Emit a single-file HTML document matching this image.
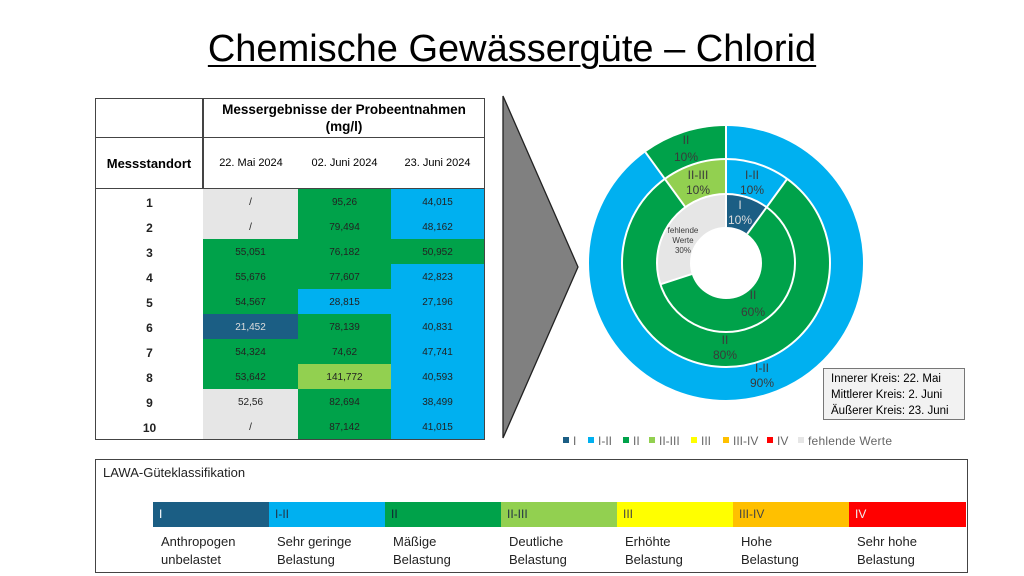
<!DOCTYPE html>
<html><head><meta charset="utf-8">
<style>
body{margin:0;width:1024px;height:576px;background:#fff;font-family:"Liberation Sans",sans-serif;position:relative;overflow:hidden}
.t{position:absolute;left:0;width:1024px;top:28px;text-align:center;font-size:38px;text-decoration:underline;text-decoration-thickness:2px;text-underline-offset:4px;color:#000}
table{position:absolute;left:95px;top:98px;border-collapse:collapse;font-size:11px}
td{padding:0;text-align:center;vertical-align:middle}
.hd td{border:1px solid #444}
.r td{height:23px;font-size:10px;color:#222;padding-top:2px;line-height:12px}
.r td:first-child{font-weight:bold;font-size:12px}
.g{background:#00a24a}.b{background:#00b0f0}.gr{background:#e6e6e6}.d{background:#1b5e84;color:#ddd!important}.lg{background:#92d050}
.box{position:absolute;border:1px solid #555}
.bar{position:absolute;top:502px;height:25px;width:116px;font-size:12px;color:#fff;line-height:25px;padding-left:6px;box-sizing:border-box}
.lab{position:absolute;top:533px;font-size:13px;line-height:18px;color:#222}
</style></head><body>
<div class="t">Chemische Gewässergüte – Chlorid</div>
<table style="width:390px;border:1px solid #444">
<tr class="hd"><td style="width:106px;height:38px;border-right:2px solid #444"></td><td colspan="3" style="height:38px;font-weight:bold;font-size:13.5px;line-height:17px">Messergebnisse der Probeentnahmen<br>(mg/l)</td></tr>
<tr class="hd"><td style="height:50px;font-weight:bold;font-size:13px;border-right:2px solid #444">Messstandort</td><td style="width:94px;border-left:none;border-right:none">22. Mai 2024</td><td style="width:93px;border-left:none;border-right:none">02. Juni 2024</td><td style="border-left:none">23. Juni 2024</td></tr>
<tr class="r"><td>1</td><td class="gr">/</td><td class="g">95,26</td><td class="b">44,015</td></tr>
<tr class="r"><td>2</td><td class="gr">/</td><td class="g">79,494</td><td class="b">48,162</td></tr>
<tr class="r"><td>3</td><td class="g">55,051</td><td class="g">76,182</td><td class="g">50,952</td></tr>
<tr class="r"><td>4</td><td class="g">55,676</td><td class="g">77,607</td><td class="b">42,823</td></tr>
<tr class="r"><td>5</td><td class="g">54,567</td><td class="b">28,815</td><td class="b">27,196</td></tr>
<tr class="r"><td>6</td><td class="d">21,452</td><td class="g">78,139</td><td class="b">40,831</td></tr>
<tr class="r"><td>7</td><td class="g">54,324</td><td class="g">74,62</td><td class="b">47,741</td></tr>
<tr class="r"><td>8</td><td class="g">53,642</td><td class="lg">141,772</td><td class="b">40,593</td></tr>
<tr class="r"><td>9</td><td class="gr">52,56</td><td class="g">82,694</td><td class="b">38,499</td></tr>
<tr class="r"><td>10</td><td class="gr">/</td><td class="g">87,142</td><td class="b">41,015</td></tr>
</table>
<svg width="1024" height="576" style="position:absolute;left:0;top:0">
<polygon points="503,96 578,267 503,438" fill="#808080" stroke="#222" stroke-width="1.3"/>
<g fill="none" transform="rotate(-90 726 263)">
<circle cx="726" cy="263" r="120.5" stroke="#00b0f0" stroke-width="33" pathLength="100" stroke-dasharray="90 100"/>
<circle cx="726" cy="263" r="120.5" stroke="#00a24a" stroke-width="33" pathLength="100" stroke-dasharray="10 100" stroke-dashoffset="-90"/>
<circle cx="726" cy="263" r="86.5" stroke="#00b0f0" stroke-width="35" pathLength="100" stroke-dasharray="10 100"/>
<circle cx="726" cy="263" r="86.5" stroke="#00a24a" stroke-width="35" pathLength="100" stroke-dasharray="80 100" stroke-dashoffset="-10"/>
<circle cx="726" cy="263" r="86.5" stroke="#92d050" stroke-width="35" pathLength="100" stroke-dasharray="10 100" stroke-dashoffset="-90"/>
<circle cx="726" cy="263" r="52.5" stroke="#1b5e84" stroke-width="33" pathLength="100" stroke-dasharray="10 100"/>
<circle cx="726" cy="263" r="52.5" stroke="#00a24a" stroke-width="33" pathLength="100" stroke-dasharray="60 100" stroke-dashoffset="-10"/>
<circle cx="726" cy="263" r="52.5" stroke="#e6e6e6" stroke-width="33" pathLength="100" stroke-dasharray="30 100" stroke-dashoffset="-70"/>
</g>
<g stroke="#fff" stroke-width="2" fill="none">
<circle cx="726" cy="263" r="104"/><circle cx="726" cy="263" r="69"/>
<line x1="726" y1="227" x2="726" y2="126"/>
<line x1="747.2" y1="233.9" x2="787.2" y2="178.9"/>
<line x1="685.4" y1="207.2" x2="645.4" y2="152.2"/>
<line x1="691.8" y1="274.1" x2="660.4" y2="284.3"/>
</g>
<g font-size="12" fill="#3a3a3a" text-anchor="middle">
<text x="686" y="144">II</text><text x="686" y="161">10%</text>
<text x="752" y="179">I-II</text><text x="752" y="194">10%</text>
<text x="698" y="179">II-III</text><text x="698" y="194">10%</text>
<text x="740" y="209" fill="#ddd">I</text><text x="740" y="224" fill="#ddd">10%</text>
<text x="683" y="233" font-size="8">fehlende</text><text x="683" y="243" font-size="8">Werte</text><text x="683" y="253" font-size="8">30%</text>
<text x="753" y="299">II</text><text x="753" y="316">60%</text>
<text x="725" y="344">II</text><text x="725" y="359">80%</text>
<text x="762" y="372">I-II</text><text x="762" y="387">90%</text>
</g>
<g font-size="12" fill="#666">
<rect x="563" y="437" width="6" height="6" fill="#1b5e84"/><text x="573" y="445">I</text>
<rect x="588" y="437" width="6" height="6" fill="#00b0f0"/><text x="598" y="445">I-II</text>
<rect x="623" y="437" width="6" height="6" fill="#00a24a"/><text x="633" y="445">II</text>
<rect x="649" y="437" width="6" height="6" fill="#92d050"/><text x="659" y="445">II-III</text>
<rect x="691" y="437" width="6" height="6" fill="#ffff00"/><text x="701" y="445">III</text>
<rect x="723" y="437" width="6" height="6" fill="#ffc000"/><text x="733" y="445">III-IV</text>
<rect x="767" y="437" width="6" height="6" fill="#ff0000"/><text x="777" y="445">IV</text>
<rect x="798" y="437" width="6" height="6" fill="#e6e6e6"/><text x="808" y="445" textLength="84">fehlende Werte</text>
</g>
</svg>
<div class="box" style="left:823px;top:368px;width:142px;height:52px;background:#f2f2f2;font-size:11.5px;line-height:16px;padding:2px 0 0 7px;box-sizing:border-box;border-color:#777">Innerer Kreis: 22. Mai<br>Mittlerer Kreis: 2. Juni<br>Äußerer Kreis: 23. Juni</div>
<div class="box" style="left:95px;top:459px;width:871px;height:112px;border-color:#444"></div>
<div style="position:absolute;left:103px;top:465px;font-size:13px;color:#222">LAWA-Güteklassifikation</div>
<div class="bar" style="left:153px;background:#1b5e84">I</div>
<div class="bar" style="left:269px;background:#00b0f0;color:#234">I-II</div>
<div class="bar" style="left:385px;background:#00a24a;color:#123">II</div>
<div class="bar" style="left:501px;background:#92d050;color:#234">II-III</div>
<div class="bar" style="left:617px;background:#ffff00;color:#444">III</div>
<div class="bar" style="left:733px;background:#ffc000;color:#444">III-IV</div>
<div class="bar" style="left:849px;width:117px;background:#ff0000;color:#eee">IV</div>
<div class="lab" style="left:161px">Anthropogen<br>unbelastet</div>
<div class="lab" style="left:277px">Sehr geringe<br>Belastung</div>
<div class="lab" style="left:393px">Mäßige<br>Belastung</div>
<div class="lab" style="left:509px">Deutliche<br>Belastung</div>
<div class="lab" style="left:625px">Erhöhte<br>Belastung</div>
<div class="lab" style="left:741px">Hohe<br>Belastung</div>
<div class="lab" style="left:857px">Sehr hohe<br>Belastung</div>
</body></html>
